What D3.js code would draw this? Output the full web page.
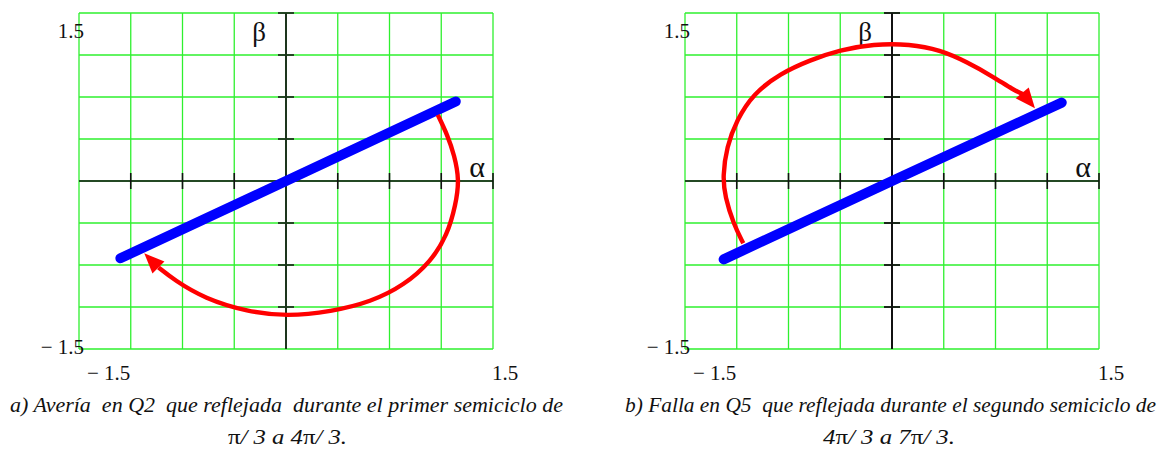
<!DOCTYPE html>
<html>
<head>
<meta charset="utf-8">
<script src="https://cdn.jsdelivr.net/npm/d3@7"></script>
<style>
  html, body { margin: 0; padding: 0; background: #fff; }
  svg { display: block; }
</style>
</head>
<body>
<svg id="chart" width="1168" height="451"></svg>
<script>
// Axis range and grid positions (alpha / beta plane, per unit)
const axisDomain = [-1.5, 1.5];
const gridTicks = [-1.5, -1.125, -0.75, -0.375, 0, 0.375, 0.75, 1.125, 1.5];
const limitLabels = ["1.5", "\u2212 1.5"];

// Panel a) — fault in Q2, first half-cycle
const blueAlphaA = [-1.20, 0, 1.23];
const blueBetaA  = [-0.69, 0, 0.71];
const redAlphaA = [1.10, 1.17, 1.22, 1.256, 1.23, 1.17, 1.05, 0.857, 0.616, 0.326, 0.01, -0.28, -0.59, -0.81, -0.924];
const redBetaA  = [0.59, 0.41, 0.23, 0.01, -0.21, -0.48, -0.72, -0.93, -1.08, -1.167, -1.21, -1.167, -1.05, -0.884, -0.772];
const arrowTipA = [-1.027, -0.646];

// Panel b) — fault in Q5, second half-cycle
const blueAlphaB = [-1.22, 0, 1.23];
const blueBetaB  = [-0.70, 0, 0.70];
const redAlphaB = [-1.078, -1.15, -1.21, -1.227, -1.198, -1.125, -1.005, -0.81, -0.594, -0.377, -0.135, 0.13, 0.348, 0.54, 0.735, 0.88, 0.951];
const redBetaB  = [-0.556, -0.378, -0.14, 0.04, 0.306, 0.545, 0.78, 0.96, 1.08, 1.17, 1.223, 1.223, 1.17, 1.065, 0.93, 0.8125, 0.775];
const arrowTipB = [1.036, 0.649];

const captionsA = ["a) Avería  en Q2  que reflejada  durante el primer semiciclo de", ["π", "/ 3 a 4", "π", "/ 3."]];
const captionsB = ["b) Falla en Q5  que reflejada durante el segundo semiciclo de", ["4", "π", "/ 3 a 7", "π", "/ 3."]];

const SERIF = "'Liberation Serif', 'Times New Roman', Tinos, 'DejaVu Serif', serif";
const svg = d3.select("#chart");

function drawPanel(cfg) {
  const x = d3.scaleLinear().domain(axisDomain).range([cfg.left, cfg.left + 414]);
  const y = d3.scaleLinear().domain(axisDomain).range([349, 13]);
  const g = svg.append("g");

  // green grid (outer lines form the frame)
  g.selectAll(".vg").data(gridTicks).join("line")
    .attr("x1", d => x(d)).attr("x2", d => x(d))
    .attr("y1", y(1.5)).attr("y2", y(-1.5))
    .attr("stroke", "#2ef02e").attr("stroke-width", 1.3);
  g.selectAll(".hg").data(gridTicks).join("line")
    .attr("y1", d => y(d)).attr("y2", d => y(d))
    .attr("x1", x(-1.5)).attr("x2", x(1.5))
    .attr("stroke", "#2ef02e").attr("stroke-width", 1.3);

  // axes through the origin
  g.append("line").attr("x1", x(-1.5)).attr("x2", x(1.5)).attr("y1", y(0)).attr("y2", y(0))
    .attr("stroke", "#111").attr("stroke-width", 1.6);
  g.append("line").attr("x1", x(0)).attr("x2", x(0)).attr("y1", y(1.5)).attr("y2", y(-1.5))
    .attr("stroke", cfg.yAxisColor).attr("stroke-width", 2);

  // tick marks (none at the lower and left ends)
  const xt = gridTicks.filter(d => d !== 0 && d !== -1.5);
  g.selectAll(".xt").data(xt).join("line")
    .attr("x1", d => x(d)).attr("x2", d => x(d))
    .attr("y1", y(0) - 8).attr("y2", y(0) + 8)
    .attr("stroke", "#111").attr("stroke-width", 1.6);
  g.selectAll(".yt").data(xt).join("line")
    .attr("y1", d => y(d)).attr("y2", d => y(d))
    .attr("x1", x(0) - 8).attr("x2", x(0) + 8)
    .attr("stroke", cfg.yAxisColor).attr("stroke-width", 1.8);

  // limit labels
  const lab = (t, xx, yy, anchor) => g.append("text").text(t)
    .attr("x", xx).attr("y", yy).attr("text-anchor", anchor)
    .attr("font-family", SERIF).attr("font-size", 21).attr("fill", "#111")
    .style("white-space", "pre");
  lab(limitLabels[0], x(-1.5) + 5, y(1.5) + 25, "end");
  lab(limitLabels[1], x(-1.5) + 5, y(-1.5) + 5, "end");
  lab(limitLabels[1], x(-1.5) + 8, y(-1.5) + 31, "start");
  lab(limitLabels[0], x(1.5) - 1, y(-1.5) + 31, "start");

  // axis names
  g.append("text").text("β").attr("x", x(0) - 20).attr("y", 41)
    .attr("text-anchor", "end").attr("font-family", SERIF).attr("font-size", 27).attr("fill", "#111");
  g.append("text").text("α").attr("x", x(1.125) + 28).attr("y", 177)
    .attr("text-anchor", "start").attr("font-family", SERIF).attr("font-size", 30).attr("fill", "#111");

  const line = d3.line().x(d => x(d[0])).y(d => y(d[1]));

  // collapsed trajectory (blue)
  const blue = cfg.blueA.map((a, i) => [a, cfg.blueB[i]]);
  g.append("path").attr("d", line(blue)).attr("fill", "none")
    .attr("stroke", "#0000ff").attr("stroke-width", 10).attr("stroke-linecap", "round");

  // reflected arc (red) with arrowhead
  const red = cfg.redA.map((a, i) => [a, cfg.redB[i]]);
  g.append("path").attr("d", line.curve(d3.curveBasis)(red)).attr("fill", "none")
    .attr("stroke", "#ff0000").attr("stroke-width", 4.4).attr("stroke-linejoin", "round");

  const base = red[red.length - 1];
  const bx = x(base[0]), by = y(base[1]);
  const tx = x(cfg.tip[0]), ty = y(cfg.tip[1]);
  const len = Math.hypot(tx - bx, ty - by);
  const ux = (tx - bx) / len, uy = (ty - by) / len;
  const hw = 8.5, al = 20;
  const b0x = tx - ux * al, b0y = ty - uy * al;
  g.append("path")
    .attr("d", `M${tx},${ty}L${b0x - uy * hw},${b0y + ux * hw}L${b0x + uy * hw},${b0y - ux * hw}Z`)
    .attr("fill", "#ff0000");

  // caption
  g.append("text").attr("x", cfg.cap1[0]).attr("y", 412)
    .attr("textLength", cfg.cap1[1] - cfg.cap1[0]).attr("lengthAdjust", "spacingAndGlyphs")
    .attr("font-family", SERIF).attr("font-size", 21).attr("font-style", "italic").attr("fill", "#111")
    .style("white-space", "pre").text(cfg.caption[0]);
  const c2 = g.append("text").attr("x", cfg.cap2[0]).attr("y", 444)
    .attr("textLength", cfg.cap2[1] - cfg.cap2[0]).attr("lengthAdjust", "spacingAndGlyphs")
    .attr("font-family", SERIF).attr("font-size", 21).attr("fill", "#111").style("white-space", "pre");
  cfg.caption[1].forEach(t => {
    c2.append("tspan").text(t).attr("font-style", t === "π" ? "normal" : "italic");
  });
}

drawPanel({
  left: 79, yAxisColor: "#1d351d",
  blueA: blueAlphaA, blueB: blueBetaA, redA: redAlphaA, redB: redBetaA, tip: arrowTipA,
  caption: captionsA, cap1: [10, 563], cap2: [228, 347]
});
drawPanel({
  left: 685, yAxisColor: "#111",
  blueA: blueAlphaB, blueB: blueBetaB, redA: redAlphaB, redB: redBetaB, tip: arrowTipB,
  caption: captionsB, cap1: [625, 1156], cap2: [823, 955]
});
</script>
</body>
</html>
